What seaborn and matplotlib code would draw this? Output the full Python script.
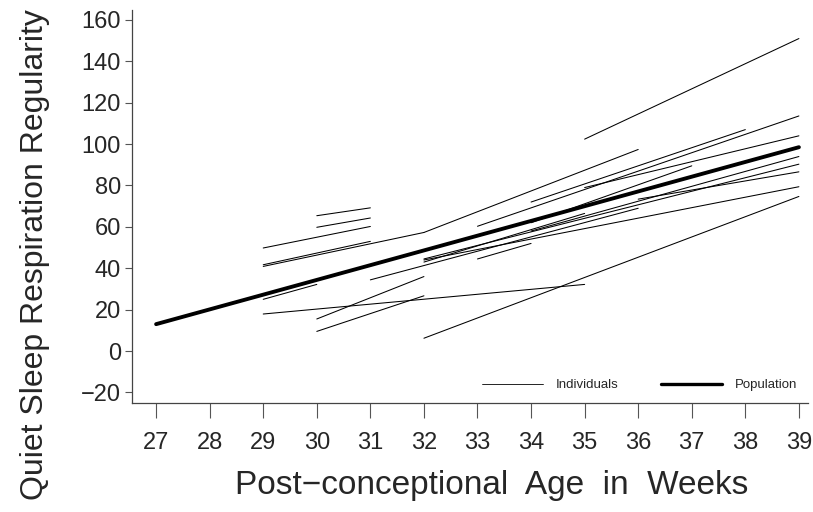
import matplotlib
matplotlib.use("Agg")
import matplotlib.pyplot as plt
import seaborn as sns
import pandas as pd
from matplotlib.lines import Line2D

# ---- data ----
ind_start_week = [30, 30, 29, 29, 29, 32, 29, 29, 30, 30, 31, 32, 35, 34, 33, 35, 34, 34, 32, 32, 36, 33, 32]
ind_start_val  = [65.4, 59.8, 49.8, 41.7, 40.9, 57.3, 25.0, 17.9, 15.5, 9.5, 34.4, 6.2, 102.4, 72.0, 60.3, 79.0, 62.0, 58.0, 44.5, 44.0, 73.4, 44.5, 43.0]
ind_end_week   = [31, 31, 31, 31, 32, 36, 30, 35, 32, 32, 36, 39, 39, 38, 39, 39, 37, 39, 39, 39, 39, 34, 35]
ind_end_val    = [69.2, 64.3, 60.2, 53.0, 57.3, 97.4, 32.2, 32.2, 36.0, 26.7, 69.0, 74.7, 151.0, 107.0, 113.6, 104.0, 89.5, 94.0, 90.3, 79.4, 86.6, 52.0, 66.5]

pop_week = [27, 39]
pop_val = [13.0, 98.5]

x_ticks = list(range(27, 40))
y_ticks = [-20, 0, 20, 40, 60, 80, 100, 120, 140, 160]

# ---- build long tables ----
rows = []
for i, (sw, sv, ew, ev) in enumerate(zip(ind_start_week, ind_start_val, ind_end_week, ind_end_val)):
    rows.append({"id": i, "week": sw, "value": sv})
    rows.append({"id": i, "week": ew, "value": ev})
ind_df = pd.DataFrame(rows)
pop_df = pd.DataFrame({"week": pop_week, "value": pop_val})

sns.set_theme(style="ticks")
plt.rcParams["font.family"] = ["Liberation Sans", "DejaVu Sans"]

fig = plt.figure(figsize=(8.13, 5.12), dpi=100)
ax = fig.add_axes([132 / 813, 1 - 403 / 512, (808 - 132) / 813, (403 - 10) / 512])

sns.lineplot(data=ind_df, x="week", y="value", units="id", estimator=None,
             color="black", linewidth=0.75, ax=ax, legend=False)
sns.lineplot(data=pop_df, x="week", y="value", color="black", linewidth=2.8,
             ax=ax, legend=False)

ax.set_xlim(26.55, 39.17)
ax.set_ylim(-25.1, 164.8)
ax.set_xticks(x_ticks)
ax.set_yticks(y_ticks)
ax.tick_params(axis="x", length=11, width=0.8, color="#555555", labelsize=17, pad=10)
ax.tick_params(axis="y", length=5, width=0.8, color="#555555", labelsize=17, pad=3)
for s in ["top", "right"]:
    ax.spines[s].set_visible(False)
for s in ["left", "bottom"]:
    ax.spines[s].set_color("#444444")
    ax.spines[s].set_linewidth(0.9)

ax.set_xlabel("Post\u2212conceptional  Age  in  Weeks", fontsize=24)
ax.set_ylabel("Quiet Sleep Respiration Regularity", fontsize=23)
ax.xaxis.set_label_coords((492 - 132) / 676, (403 - 470) / 393)
ax.yaxis.set_label_coords((50 - 132) / 676, (403 - 255) / 393)

handles = [Line2D([], [], color="black", linewidth=0.6),
           Line2D([], [], color="black", linewidth=2.4)]
fig.legend(handles, ["Individuals", "Population"], ncol=2, frameon=False,
           loc="center left", bbox_to_anchor=(482 / 813, 1 - 385 / 512),
           fontsize=9.5, handlelength=4.6, handletextpad=1.0, columnspacing=3.2,
           borderpad=0, borderaxespad=0)

fig.savefig("out.png", dpi=100)
